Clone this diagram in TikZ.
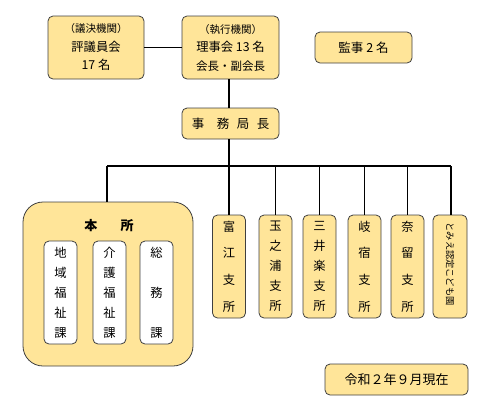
\documentclass[tikz,border=0pt]{standalone}
\usepackage{fontspec}
\setmainfont{Noto Sans CJK JP}
\usetikzlibrary{calc}
\definecolor{boxyellow}{HTML}{FFE599}
\tikzset{
  orgbox/.style={draw=black!75,fill=boxyellow,line width=0.8pt,rounded corners=5pt,
    inner sep=0pt,align=center},
  subbox/.style={orgbox,fill=white},
  link/.style={line width=1.6pt}
}

\begin{document}
\begin{tikzpicture}[x=1pt,y=-1pt]
            \useasboundingbox (0,0) rectangle (500,416);

            \node[orgbox,minimum width=96pt,minimum height=63pt,font=\fontsize{12.3}{18.5}\selectfont] (hyogiin) at (96,47.5)
              {{\fontsize{10.5}{18.5}\selectfont （議決機関）}\\評議員会\\17 名};
            \node[orgbox,minimum width=97pt,minimum height=63pt,font=\fontsize{12.3}{18.5}\selectfont] (rijikai) at (230.5,47.5)
              {{\fontsize{10.5}{18.5}\selectfont （執行機関）}\\理事会 13 名\\{\fontsize{11.5}{18.5}\selectfont 会長・副会長}};
            \node[orgbox,minimum width=97pt,minimum height=31pt,font=\fontsize{12.5}{15}\selectfont] (kanji) at (363.5,47.5) {監事 2 名};
            \node[orgbox,minimum width=97pt,minimum height=31pt,font=\fontsize{12.5}{15}\selectfont] (jimu) at (230.5,123.5) {事\hspace{1em}務\hspace{0.6em}局\hspace{0.6em}長};

            \coordinate (barL) at (107,166);
            \coordinate (barR) at (451,166);

            % honsho
            \node[orgbox,rounded corners=20pt,minimum width=170pt,minimum height=164pt] (honsho) at (108,284) {};
            \node[font=\fontsize{13}{15}\selectfont\bfseries] (honshotitle) at (109,226) {本\hspace{1.8em}所};
            \node[subbox,minimum width=33pt,minimum height=103pt,font=\fontsize{12.3}{20}\selectfont] (chiiki) at (60.5,292.5) {地\\域\\福\\祉\\課};
            \node[subbox,minimum width=33pt,minimum height=103pt,font=\fontsize{12.3}{20}\selectfont] (kaigo) at (109.5,292.5) {介\\護\\福\\祉\\課};
            \node[subbox,minimum width=33pt,minimum height=103pt,font=\fontsize{12.3}{40}\selectfont] (somu) at (156.5,292.5) {総\\務\\課};

            % branches
            \node[orgbox,minimum width=33pt,minimum height=103pt,font=\fontsize{12.3}{26.7}\selectfont] (tomie) at (229,266.5) {富\\江\\支\\所};
            \node[orgbox,minimum width=33pt,minimum height=103pt,font=\fontsize{12.3}{20}\selectfont] (tamanoura) at (275.5,266.5) {玉\\之\\浦\\支\\所};
            \node[orgbox,minimum width=33pt,minimum height=103pt,font=\fontsize{12.3}{20}\selectfont] (miiraku) at (319.5,266.5) {三\\井\\楽\\支\\所};
            \node[orgbox,minimum width=33pt,minimum height=103pt,font=\fontsize{12.3}{26.7}\selectfont] (kishiku) at (364.5,266.5) {岐\\宿\\支\\所};
            \node[orgbox,minimum width=33pt,minimum height=103pt,font=\fontsize{12.3}{26.7}\selectfont] (naru) at (407.5,266.5) {奈\\留\\支\\所};
            \node[orgbox,minimum width=34pt,minimum height=103pt] (kodomoen) at (450,266.5) {};
            \node[rotate=-90,font=\fontsize{9.2}{11}\selectfont] (kodomoentext) at (450,264) {とみえ認定こども園};

            \node[orgbox,minimum width=143pt,minimum height=31pt,font=\fontsize{13}{15}\selectfont] (date) at (396.5,379.5) {令和２年９月現在};

            \draw[link] (hyogiin.east) -- (rijikai.west);
            \draw[link] (rijikai.south -| tomie) -- (jimu.north -| tomie);
            \draw[link] (jimu.south -| tomie) -- (tomie.north);
            \draw[link] (barL) -- (barR);
            \draw[link] (barL) -- (barL |- honsho.north);
            \draw[link] (barL -| tamanoura) -- (tamanoura.north);
            \draw[link] (barL -| miiraku) -- (miiraku.north);
            \draw[link] (barL -| kishiku) -- (kishiku.north);
            \draw[link] (barL -| naru) -- (naru.north);
            \draw[link] (barR) -- (barR |- kodomoen.north);
        \end{tikzpicture}
\end{document}
